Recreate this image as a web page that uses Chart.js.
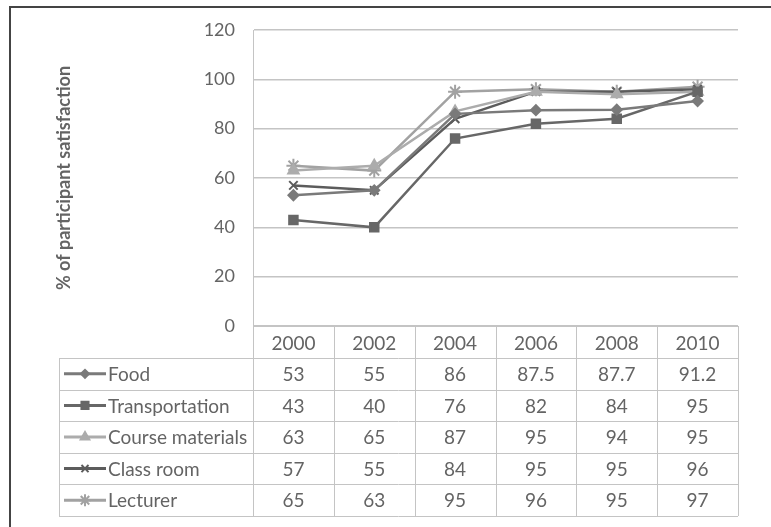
<!DOCTYPE html>
<html>
<head>
<meta charset="utf-8">
<script src="https://cdn.jsdelivr.net/npm/chart.js@4/dist/chart.umd.min.js"></script>
<style>
  html, body { margin: 0; padding: 0; background: #fff; }
  canvas { display: block; }
</style>
</head>
<body>
<canvas id="chart" width="771" height="527"></canvas>
<script>
const years = ['2000', '2002', '2004', '2006', '2008', '2010'];
const seriesNames = ['Food', 'Transportation', 'Course materials', 'Class room', 'Lecturer'];
const food = [53, 55, 86, 87.5, 87.7, 91.2];
const transportation = [43, 40, 76, 82, 84, 95];
const courseMaterials = [63, 65, 87, 95, 94, 95];
const classRoom = [57, 55, 84, 95, 95, 96];
const lecturer = [65, 63, 95, 96, 95, 97];
const yTicks = [0, 20, 40, 60, 80, 100, 120];

const FONT = 'Lato, "Open Sans", sans-serif';
const textColor = '#646464';
const gridColor = '#c4c4c4';

const styles = [
  { color: '#7a7a7a', point: 'rectRot', radius: 5 },
  { color: '#676767', point: 'rect', radius: 6 },
  { color: '#acacac', point: 'triangle', radius: 6 },
  { color: '#5c5c5c', point: 'crossRot', radius: 6 },
  { color: '#a2a2a2', point: 'star', radius: 7 }
];
const values = [food, transportation, courseMaterials, classRoom, lecturer];

// tabla de datos debajo del grafico
const dataTable = {
  id: 'dataTable',
  afterDraw(chart) {
    const ctx = chart.ctx;
    const area = chart.chartArea;
    const x = chart.scales.x;
    const n = years.length;
    const colW = (area.right - area.left) / n;
    const tableLeft = 59;
    const headerBottom = 358;
    const rowH = 31.6;
    const tableBottom = headerBottom + rowH * seriesNames.length;

    ctx.save();
    ctx.strokeStyle = gridColor;
    ctx.lineWidth = 1;
    // lineas horizontales
    for (let r = 0; r <= seriesNames.length; r++) {
      const y = Math.round(headerBottom + r * rowH) + 0.5;
      ctx.beginPath();
      ctx.moveTo(tableLeft, y);
      ctx.lineTo(area.right, y);
      ctx.stroke();
    }
    // lineas verticales
    ctx.beginPath();
    ctx.moveTo(tableLeft + 0.5, headerBottom);
    ctx.lineTo(tableLeft + 0.5, tableBottom);
    ctx.stroke();
    for (let i = 0; i <= n; i++) {
      const bx = Math.round(area.left + i * colW) + 0.5;
      ctx.beginPath();
      ctx.moveTo(bx, area.bottom);
      ctx.lineTo(bx, tableBottom);
      ctx.stroke();
    }

    ctx.font = '19px ' + FONT;
    ctx.textBaseline = 'middle';
    for (let r = 0; r < seriesNames.length; r++) {
      const cy = headerBottom + r * rowH + rowH / 2;
      const st = styles[r];
      // muestra de la serie
      ctx.strokeStyle = st.color;
      ctx.fillStyle = st.color;
      ctx.lineWidth = 3;
      ctx.beginPath();
      ctx.moveTo(64, cy);
      ctx.lineTo(106, cy);
      ctx.stroke();
      ctx.lineWidth = 2;
      Chart.helpers.drawPoint(ctx, {
        pointStyle: st.point, radius: st.radius - 1, rotation: 0, borderWidth: 2
      }, 85, cy);
      ctx.fillStyle = textColor;
      ctx.textAlign = 'left';
      ctx.fillText(seriesNames[r], 108, cy + 1);
      ctx.textAlign = 'center';
      for (let i = 0; i < n; i++) {
        ctx.fillText(String(values[r][i]), x.getPixelForValue(i), cy + 1);
      }
    }

    // marco de la figura
    ctx.strokeStyle = '#444';
    ctx.lineWidth = 2;
    ctx.beginPath();
    ctx.moveTo(10, 527);
    ctx.lineTo(10, 7);
    ctx.lineTo(771, 7);
    ctx.stroke();
    ctx.restore();
  }
};

const ctx = document.getElementById('chart').getContext('2d');
const chart = new Chart(ctx, {
  type: 'line',
  data: {
    labels: years,
    datasets: seriesNames.map((name, i) => ({
      label: name,
      data: values[i],
      borderColor: styles[i].color,
      backgroundColor: styles[i].color,
      pointBackgroundColor: styles[i].color,
      pointBorderColor: styles[i].color,
      pointStyle: styles[i].point,
      pointRadius: styles[i].radius,
      pointBorderWidth: 2,
      borderWidth: 2.5,
      tension: 0
    }))
  },
  options: {
    responsive: false,
    animation: false,
    devicePixelRatio: 1,
    layout: { padding: { left: 9, top: 30, right: 33, bottom: 0 } },
    plugins: {
      legend: { display: false },
      tooltip: { enabled: false }
    },
    scales: {
      x: {
        offset: true,
        grid: { display: false, drawTicks: false },
        border: { display: true, color: gridColor },
        ticks: {
          color: textColor,
          font: { family: FONT, size: 19 },
          padding: 6,
          maxRotation: 0
        },
        afterFit(scale) { scale.height = 201; }
      },
      y: {
        min: 0,
        max: 120,
        afterBuildTicks(scale) { scale.ticks = yTicks.map(v => ({ value: v })); },
        grid: { color: gridColor, drawTicks: false, lineWidth: 1.5 },
        border: { display: true, color: gridColor },
        ticks: {
          color: textColor,
          font: { family: FONT, size: 18 },
          padding: 18
        },
        title: {
          display: true,
          text: '% of participant satisfaction',
          color: textColor,
          font: { family: FONT, size: 18, weight: 'bold' },
          padding: { top: 44, bottom: 0 }
        },
        afterFit(scale) { scale.width = 244; }
      }
    }
  },
  plugins: [dataTable]
});
</script>
</body>
</html>
